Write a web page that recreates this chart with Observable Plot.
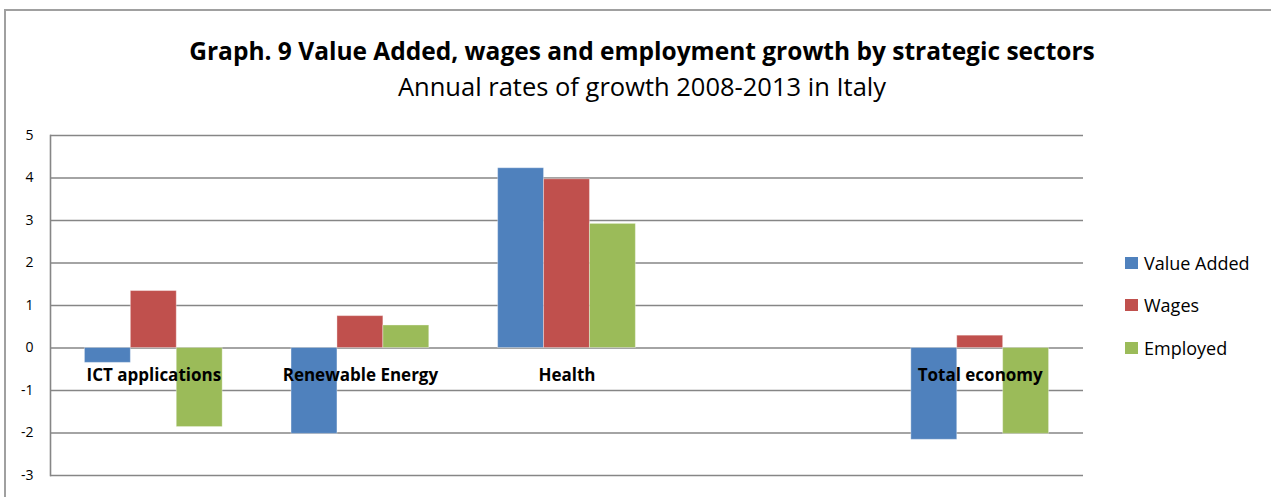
<!DOCTYPE html>
<html>
<head>
<meta charset="utf-8">
<script src="https://cdn.jsdelivr.net/npm/d3@7"></script>
<script src="https://cdn.jsdelivr.net/npm/@observablehq/plot@0.6"></script>
<style>
  html, body { margin: 0; padding: 0; background: #fff; overflow: hidden; }
  #wrap { position: relative; width: 1271px; height: 497px; background: #fff; font-family: "Open Sans", Lato, sans-serif; color: #000; }
  #border { position: absolute; left: 4px; top: 9px; width: 1300px; height: 600px; border: 2px solid #a0a0a0; box-sizing: border-box; }
  .title { position: absolute; left: 0; width: 1284px; text-align: center; white-space: nowrap; line-height: 26px; }
  #t1 { top: 38px; font-size: 24.5px; font-weight: bold; }
  #t2 { top: 73px; font-size: 25.5px; font-weight: normal; }
  .layer { position: absolute; left: 0; top: 0; }
  #legend { position: absolute; left: 1125px; top: 242px; }
  .row { height: 42.25px; display: flex; align-items: center; font-size: 18px; white-space: nowrap; }
  .sw { width: 13px; height: 12px; margin-right: 6px; flex: none; }
</style>
</head>
<body>
<div id="wrap">
  <div id="border"></div>
  <div class="title" id="t1"></div>
  <div class="title" id="t2"></div>
  <div class="layer" id="grid"></div>
  <div class="layer" id="bars"></div>
  <div id="legend"></div>
</div>
<script>
// ---- data ----
const titleText = "Graph. 9 Value Added, wages and employment growth by strategic sectors";
const subtitleText = "Annual rates of growth 2008-2013 in Italy";
const categories = ["ICT applications", "Renewable Energy", "Health", " ", "Total economy"];
const seriesNames = ["Value Added", "Wages", "Employed"];
const seriesColors = ["#4F81BD", "#C0504D", "#9BBB59"];
const valueAdded = [-0.35, -2.02, 4.23, null, -2.16];
const wages = [1.34, 0.75, 3.97, null, 0.29];
const employed = [-1.86, 0.53, 2.92, null, -2.02];
const yTicks = [-3, -2, -1, 0, 1, 2, 3, 4, 5];

// ---- build table ----
const seriesValues = [valueAdded, wages, employed];
const rows = [];
categories.forEach((c, i) => {
  seriesNames.forEach((s, j) => {
    const v = seriesValues[j][i];
    if (v !== null && v !== undefined) rows.push({category: c, series: s, value: v});
  });
});
const labelCats = categories.filter(c => c.trim() !== "");

document.getElementById("t1").textContent = titleText;
document.getElementById("t2").textContent = subtitleText;

const common = {
  width: 1271,
  height: 497,
  marginLeft: 50,
  marginRight: 188,
  marginTop: 135,
  marginBottom: 22,
  style: {fontFamily: "'Open Sans', Lato, sans-serif", background: "transparent"}
};
const yDomain = [-3, 5];
const gridColor = "#868686";

// Layer 1: gridlines, axis line and y tick labels
const gridPlot = Plot.plot({
  ...common,
  y: {domain: yDomain},
  marks: [
    Plot.ruleY(yTicks, {stroke: gridColor, strokeWidth: 1.6}),
    Plot.frame({anchor: "left", stroke: gridColor, strokeWidth: 1.6}),
    Plot.axisY({ticks: yTicks, tickSize: 0, tickPadding: 17, tickFormat: d => String(d), fontSize: 14, fill: "#000", label: null})
  ]
});
document.getElementById("grid").appendChild(gridPlot);

// Layer 2: grouped bars and category labels
const barPlot = Plot.plot({
  ...common,
  fx: {domain: categories, paddingInner: 1 / 3, paddingOuter: 1 / 6, round: false, axis: null},
  x: {domain: seriesNames, padding: 0, round: false, axis: null},
  y: {domain: yDomain, axis: null},
  color: {domain: seriesNames, range: seriesColors},
  marks: [
    Plot.barY(rows, {fx: "category", x: "series", y1: () => 0, y2: "value", fill: "series", stroke: "#ffffff", strokeOpacity: 0.35, strokeWidth: 1}),
    Plot.text(labelCats, {fx: d => d, y: () => 0, text: d => d, dy: 28, fontSize: 17, fontWeight: "bold", fill: "#000", textAnchor: "middle"})
  ]
});
document.getElementById("bars").appendChild(barPlot);

// legend
const legend = document.getElementById("legend");
seriesNames.forEach((s, i) => {
  const row = document.createElement("div");
  row.className = "row";
  const sw = document.createElement("div");
  sw.className = "sw";
  sw.style.background = seriesColors[i];
  const tx = document.createElement("span");
  tx.textContent = s;
  row.appendChild(sw);
  row.appendChild(tx);
  legend.appendChild(row);
});
</script>
</body>
</html>
